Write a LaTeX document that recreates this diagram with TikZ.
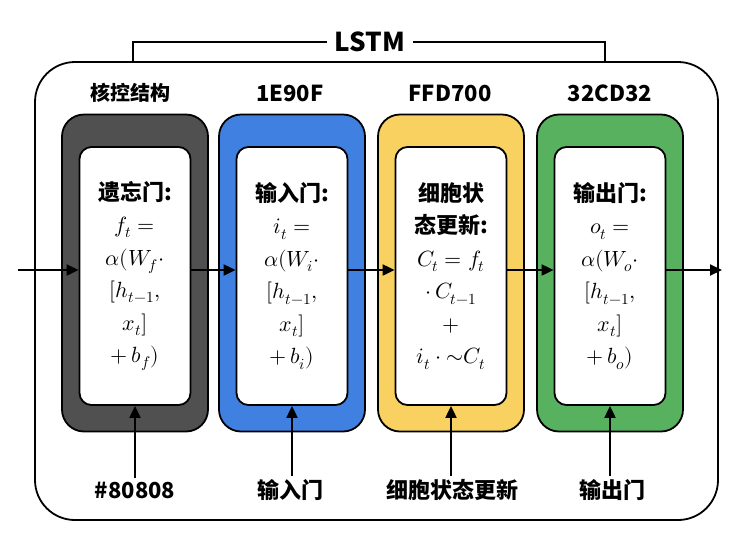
\documentclass[tikz,border=0pt]{standalone}
\usepackage{fontspec}
\usepackage{amsmath}
\usepackage{unicode-math}
\setmathfont{Latin Modern Math}
\newfontfamily\cjk{Noto Sans CJK SC}
\usetikzlibrary{arrows.meta,positioning}
\definecolor{gatec}{HTML}{505050}
\definecolor{inc}{HTML}{3F80E0}
\definecolor{cellc}{HTML}{F8D160}
\definecolor{outc}{HTML}{58B15F}
\tikzset{
  gate/.style={draw=black,line width=1.8pt,rounded corners=22pt,minimum width=146pt,minimum height=317pt},
  core/.style={draw=black,fill=white,line width=1.8pt,rounded corners=12pt,minimum width=111pt,minimum height=258pt,align=center,
    inner xsep=0pt,font=\fontsize{22}{32.5}\selectfont\cjk\bfseries},
  lbl/.style={font=\fontsize{22}{26}\selectfont\cjk\bfseries},
  flow/.style={-{Triangle[length=12pt,width=11pt]},line width=2pt},
}
\begin{document}
\begin{tikzpicture}[x=1pt,y=-1pt]
\useasboundingbox (0,0) rectangle (738,542);
\draw[line width=1.8pt,rounded corners=40pt] (35,62) rectangle (718,520);
\draw[line width=1.8pt] (133,62) -- (133,42) -- (605,42) -- (605,62);
\node[lbl,fill=white,inner xsep=8pt,font=\fontsize{26}{30}\selectfont\cjk\bfseries] (title) at (370,42) {LSTM};

\node[gate,fill=gatec] (g1) at (135,273) {};
\node[gate,fill=inc] (g2) at (292,273) {};
\node[gate,fill=cellc] (g3) at (451,273) {};
\node[gate,fill=outc] (g4) at (610,273) {};

\node[core] (c1) at (135,276) {遗忘门:\\$f_t =$\\$\alpha(W_f\cdot$\\$[h_{t-1},$\\$x_t]$\\$+\,b_f)$};
\node[core] (c2) at (292,276) {输入门:\\$i_t =$\\$\alpha(W_i\cdot$\\$[h_{t-1},$\\$x_t]$\\$+\,b_i)$};
\node[core] (c3) at (451,276) {细胞状\\态更新:\\$C_t = f_t$\\$\cdot\, C_{t-1}$\\$+$\\$i_t\cdot{\sim}C_t$};
\node[core] (c4) at (610,276) {输出门:\\$o_t =$\\$\alpha(W_o\cdot$\\$[h_{t-1},$\\$x_t]$\\$+\,b_o)$};

\node[lbl,font=\fontsize{20}{24}\selectfont\cjk\bfseries] (t1) at (130,93) {核控结构};
\node[lbl] (t2) at (290,93) {1E90F};
\node[lbl] (t3) at (450,93) {FFD700};
\node[lbl] (t4) at (610,93) {32CD32};

\node[lbl] (b1) at (135,490) {\#80808};
\node[lbl] (b2) at (290,490) {输入门};
\node[lbl] (b3) at (452,490) {细胞状态更新};
\node[lbl] (b4) at (612,490) {输出门};

\coordinate (in) at (18,270);
\coordinate (out) at (722,270);
\draw[flow] (in) -- (c1.west |- in);
\draw[flow] (c1.east |- in) -- (c2.west |- in);
\draw[flow] (c2.east |- in) -- (c3.west |- in);
\draw[flow] (c3.east |- in) -- (c4.west |- in);
\draw[flow] (c4.east |- in) -- (out);
\foreach \i in {1,2,3,4}
  \draw[flow] (b\i.north -| c\i.south) -- (c\i.south);
\end{tikzpicture}
\end{document}
